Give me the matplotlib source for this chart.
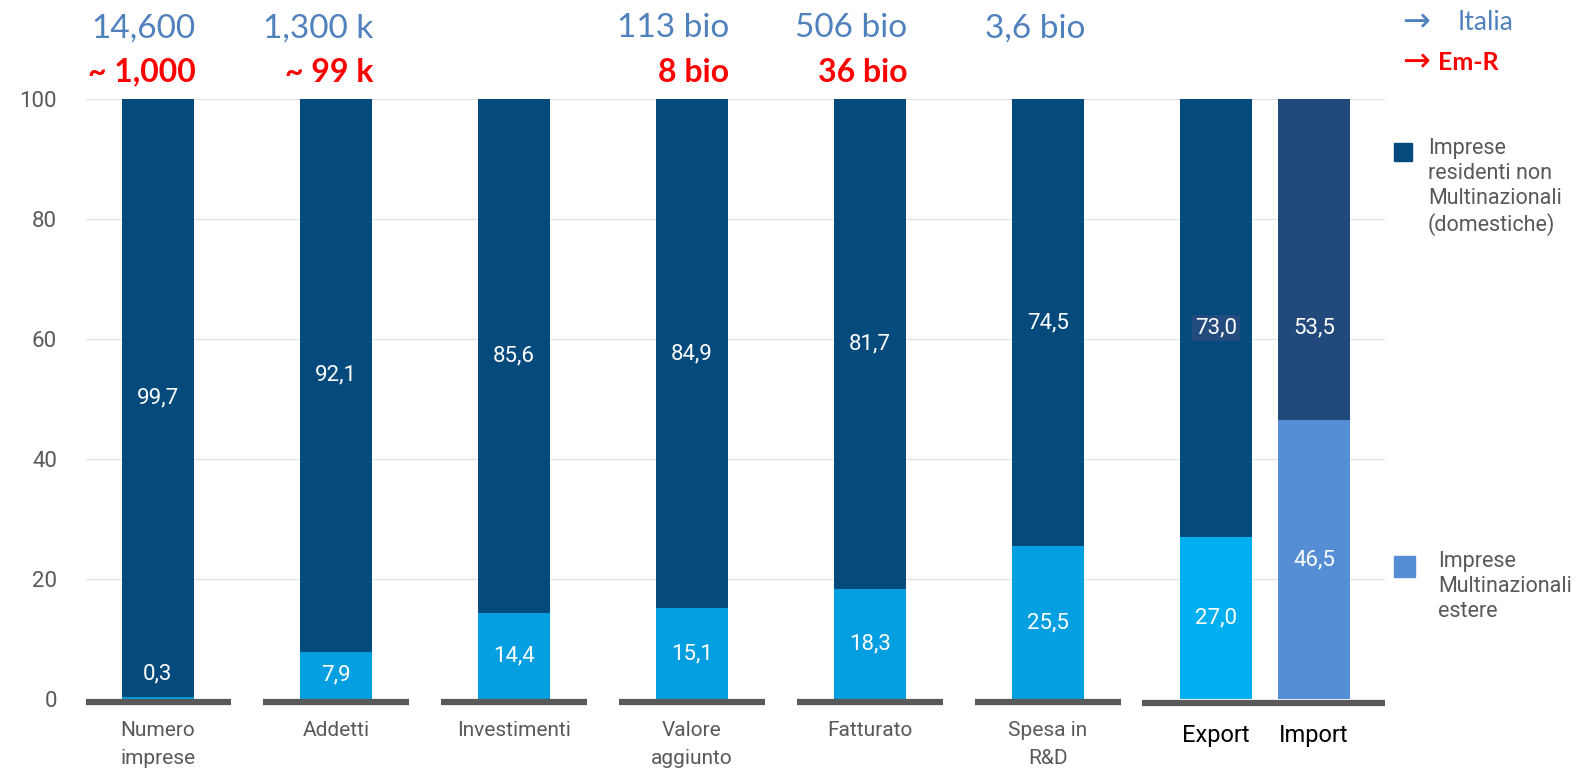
import numpy as np
import matplotlib
matplotlib.use('Agg')
import matplotlib.pyplot as plt

# shares (%) of domestic vs foreign multinational firms, Emilia-Romagna
categories = ['Numero\nimprese', 'Addetti', 'Investimenti', 'Valore\naggiunto',
              'Fatturato', 'Spesa in\nR&D', 'Export', 'Import']
foreign = [0.3, 7.9, 14.4, 15.1, 18.3, 25.5, 27.0, 46.5]
domestic = [99.7, 92.1, 85.6, 84.9, 81.7, 74.5, 73.0, 53.5]
italia_tot = ['14,600', '1,300 k', '', '113 bio', '506 bio', '3,6 bio', '', '']
emr_tot = ['~ 1,000', '~ 99 k', '', '8 bio', '36 bio', '', '', '']
yticks = [0, 20, 40, 60, 80, 100]

dark = ['#044a7c'] * 7 + ['#21497c']
light = ['#039fe0'] * 6 + ['#00b0f0', '#558ed5']
gray = '#595959'
blue_txt = '#4f81bd'
red_txt = '#ff0000'

x = np.concatenate([np.arange(6), [5.944, 6.494]])
w = 0.4

fig = plt.figure(figsize=(15.85, 7.70), dpi=100)
ax = fig.add_axes([86/1585, 1 - 708/770, (1385-86)/1585, 609/770])
ax.set_xlim(-0.404, 6.893)
ax.set_ylim(-1.5, 100)

for yv in yticks[1:]:
    ax.axhline(yv, color='#e3e3e3', lw=0.9, zorder=0)

ax.bar(x, foreign, width=w, color=light, zorder=2)
ax.bar(x, domestic, width=w, bottom=foreign, color=dark, zorder=2)

# baselines under each group
for xi in x[:6]:
    ax.hlines(-0.45, xi - 0.41, xi + 0.41, color=gray, lw=4.5, zorder=3)
ax.hlines(-0.6, 5.528, 6.893, color=gray, lw=4.5, zorder=3)

vfont = dict(family='Roboto', fontsize=16, color='white', ha='center', va='center', zorder=4)
for i, (f, d) in enumerate(zip(foreign, domestic)):
    yf = f / 2 if f > 3 else f + 3.8
    yd = f + d / 2
    if i == 7:
        yd = foreign[6] + domestic[6] / 2 - 1.7
    if i == 6:
        yd -= 1.7
    ax.text(x[i], yf, ('%.1f' % f).replace('.', ','), **vfont)
    t = ax.text(x[i], yd, ('%.1f' % d).replace('.', ','), **vfont)
    if i == 6:
        t.set_bbox(dict(facecolor='#234b7e', edgecolor='none', pad=2))

# totals above bars
for i in range(8):
    if italia_tot[i]:
        ax.text(x[i] + w/2 + 0.01, 111.8, italia_tot[i], family='Lato', fontsize=24,
                color=blue_txt, ha='right', va='center', clip_on=False)
    if emr_tot[i]:
        ax.text(x[i] + w/2 + 0.01, 104.5, emr_tot[i], family='Lato', fontsize=23,
                fontweight='bold', color=red_txt, ha='right', va='center', clip_on=False)

ax.set_yticks(yticks)
ax.set_yticklabels([str(v) for v in yticks], family='Roboto', fontsize=16, color=gray)
ax.tick_params(axis='y', length=0, pad=21)
ax.set_xticks(x)
ax.set_xticklabels([])
for i, lab in enumerate(categories):
    if i < 6:
        ax.text(x[i], -3.6, lab, family='Roboto', fontsize=15, color=gray,
                ha='center', va='top', linespacing=1.6, clip_on=False)
    else:
        ax.text(x[i], -4.2, lab, family='Roboto', fontsize=17, color='black',
                ha='center', va='top', clip_on=False)
ax.tick_params(axis='x', length=0)
for s in ax.spines.values():
    s.set_visible(False)

# legends on the right
fig.text(1402/1585, 1 - 22/770, '\u2192', family='DejaVu Sans', fontsize=24,
         color=blue_txt, va='center')
fig.text(1458/1585, 1 - 22/770, 'Italia', family='Lato', fontsize=19,
         color=blue_txt, va='center')
fig.text(1402/1585, 1 - 62/770, '\u2192', family='DejaVu Sans', fontsize=24,
         color=red_txt, va='center')
fig.text(1438/1585, 1 - 62/770, 'Em-R', family='Lato', fontsize=18, fontweight='bold',
         color=red_txt, va='center')

fig.patches.append(plt.Rectangle((1394/1585, 1 - 161/770), 18/1585, 18/770,
                                 transform=fig.transFigure, color='#044a7c'))
fig.text(1428/1585, 1 - 138/770, 'Imprese\nresidenti non\nMultinazionali\n(domestiche)',
         family='Roboto', fontsize=15.5, color=gray, va='top', linespacing=1.25)
fig.patches.append(plt.Rectangle((1394/1585, 1 - 577/770), 21/1585, 21/770,
                                 transform=fig.transFigure, color='#558ed5'))
fig.text(1438/1585, 1 - 551/770, 'Imprese\nMultinazionali\nestere',
         family='Roboto', fontsize=15.5, color=gray, va='top', linespacing=1.25)

fig.savefig('out.png', dpi=100)
